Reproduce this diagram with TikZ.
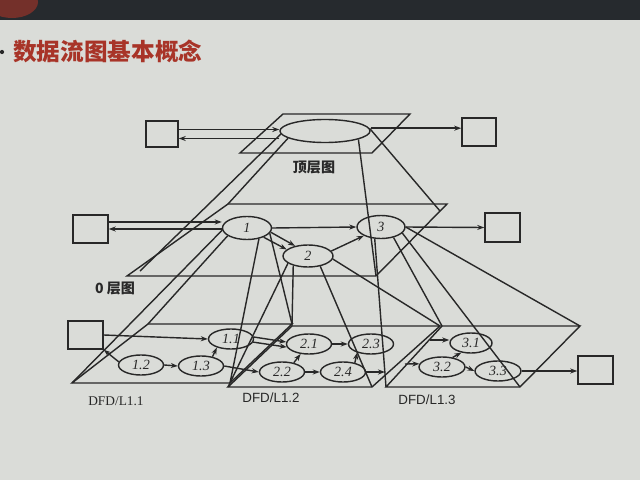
\documentclass[tikz,border=0pt]{standalone}
\usepackage{fontspec}
\setmainfont{Liberation Serif}
\newfontfamily\cjk{Noto Sans CJK SC}
\newfontfamily\arialf{Liberation Sans}
\usetikzlibrary{shapes.geometric,arrows.meta}
\definecolor{ink}{RGB}{40,40,40}
\definecolor{slide}{RGB}{218,220,216}
\definecolor{hdr}{RGB}{38,42,46}
\definecolor{ttl}{RGB}{168,52,40}
\begin{document}
\begin{tikzpicture}[x=0.025cm,y=-0.025cm,
  ln/.style={draw=ink,line width=1pt},
  arr/.style={ln,-{Stealth[length=5pt,width=3.6pt]}},
  ent/.style={draw=ink,line width=1.1pt,inner sep=0pt},
  proc/.style={ellipse,draw=ink,line width=1pt,inner sep=0pt,text=ink,font=\itshape\fontsize{10}{10}\selectfont},
  sub/.style={proc,minimum width=1.125cm,minimum height=0.5cm},
  lab/.style={text=ink,inner sep=0pt,font=\cjk\bfseries\fontsize{10}{10}\selectfont},
  dlab/.style={text=ink,inner sep=0pt,font=\fontsize{9.5}{10}\selectfont}
]
\useasboundingbox (0,0) rectangle (640,480);
\fill[slide] (0,0) rectangle (640,480);
\fill[hdr] (0,0) rectangle (640,20);
\begin{scope}
\clip (0,0) rectangle (640,20);
\fill[ttl!60!hdr] (12,2) ellipse [x radius=0.65cm, y radius=0.4cm];
\end{scope}

% title
\fill[ink] (2,52) circle [radius=1.5pt];
\node[anchor=west,text=ttl,inner sep=0pt,font=\cjk\bfseries\fontsize{16.8}{17}\selectfont] (title) at (13,51) {数据流图基本概念};

% ---------- top level ----------
\coordinate (t1) at (283,114); \coordinate (t2) at (410,114);
\coordinate (t3) at (372,153); \coordinate (t4) at (240,153);
\draw[ln] (t1)--(t2)--(t3)--(t4)--cycle;
\node[ent,minimum width=0.8cm,minimum height=0.65cm] (tl) at (162,134) {};
\node[ent,minimum width=0.85cm,minimum height=0.7cm] (tr) at (479,132) {};
\node[proc,minimum width=2.25cm,minimum height=0.575cm] (T) at (325,131) {};
\draw[arr] ([yshift=3.2pt]tl.east) -- ([yshift=3.2pt]tl.east -| T.west);
\draw[arr] ([yshift=-3.2pt]tl.east -| T.west) -- ([yshift=-3.2pt]tl.east);
\draw[arr] ([yshift=2pt]T.east) -- ([yshift=2pt]T.east -| tr.west);
\node[lab] (ltop) at (314,167) {顶层图};

% ---------- level 0 ----------
\coordinate (p1) at (228,204); \coordinate (p2) at (447,204);
\coordinate (p3) at (376,276); \coordinate (p4) at (127,276);
\draw[ln] (p1)--(p2)--(p3)--(p4)--cycle;
\node[ent,minimum width=0.875cm,minimum height=0.7cm] (b0l) at (90.5,229) {};
\node[ent,minimum width=0.875cm,minimum height=0.725cm] (b0r) at (502.5,227.5) {};
\node[proc,minimum width=1.225cm,minimum height=0.575cm] (E1) at (247,228) {1};
\node[proc,minimum width=1.25cm,minimum height=0.55cm] (E2) at (308,256) {2};
\node[proc,minimum width=1.2cm,minimum height=0.575cm] (E3) at (381,227) {3};
\draw[arr] ([yshift=5pt]b0l.east) -- ([yshift=5pt]b0l.east -| E1.west);
\draw[arr] (b0l.east -| E1.west) -- (b0l.east);
\draw[arr] (E1.east) -- (E3.west);
\draw[arr] (E3.east) -- (b0r.west);
\draw[arr] (E1.350) -- (E2.142);
\draw[arr] (E1.331) -- (E2.163);
\draw[arr] (E2.12) -- (E3.207);
\node[lab] (l0) at (115,288) {0 层图};

% projection top -> level 0
\coordinate (qA) at (140,271);
\coordinate (qB) at (440,211);
\draw[ln] (T.184) -- (qA);
\draw[ln] (T.191) -- (p1);
\draw[ln] (T.346) -- (p3);
\draw[ln] (T.3) -- (qB);

% ---------- level 1 ----------
\coordinate (a1) at (148,324); \coordinate (a2) at (292,324);
\coordinate (a3) at (230,383); \coordinate (a4) at (72,383);
\coordinate (c1) at (292,326); \coordinate (c2) at (440,326);
\coordinate (c3) at (372,387); \coordinate (c4) at (228,387);
\coordinate (d1) at (442,326); \coordinate (d2) at (580,326);
\coordinate (d3) at (520,387); \coordinate (d4) at (386,387);
\draw[ln] (a1)--(a2)--(a3)--(a4)--cycle;
\draw[ln] (c1)--(c2)--(c3)--(c4)--cycle;
\draw[ln] (d1)--(d2)--(d3)--(d4)--cycle;

% projection level 0 -> level 1
\draw[ln] (E1.185) -- (a4);
\draw[ln] (E1.202) -- (a1);
\draw[ln] (E1.347) -- (a2);
\draw[ln] (E1.318) -- (a3);
\draw[ln] (E2.213) -- (c1);
\draw[ln] (E2.200) -- (c4);
\draw[ln] (E2.353) -- (c2);
\draw[ln] (E2.320) -- (c3);
\draw[ln] (E3.242) -- (d4);
\draw[ln] (E3.320) -- (d1);
\draw[ln] (E3.344) -- (d3);
\draw[ln] (E3.0) -- (d2);

\node[ent,minimum width=0.875cm,minimum height=0.7cm] (b3) at (85.5,335) {};
\node[ent,minimum width=0.875cm,minimum height=0.7cm] (b4) at (595.5,370) {};
\node[sub] (e11) at (231,339) {1.1};
\node[sub] (e12) at (141,365) {1.2};
\node[sub] (e13) at (201,366) {1.3};
\node[sub] (e21) at (309,344) {2.1};
\node[sub] (e22) at (282,372) {2.2};
\node[sub] (e23) at (371,344) {2.3};
\node[sub] (e24) at (343,372) {2.4};
\node[sub,minimum width=1.05cm] (e31) at (471,343) {3.1};
\node[sub,minimum width=1.15cm] (e32) at (442,367) {3.2};
\node[sub,minimum width=1.15cm] (e33) at (498,371) {3.3};

\draw[arr] (b3.east) -- (e11.west);
\draw[arr] (e12.172) -- (b3.south east);
\draw[arr] (e12.east) -- (e13.west);
\draw[arr] (e13.39) -- (e11.211);
\draw[arr] (e11.5) -- (e21.175);
\draw[arr] (e11.352) -- (e21.188);
\draw[arr] (e13.east) -- (e22.west);
\draw[arr] (e21.east) -- (e23.west);
\draw[arr] (e22.38) -- (e21.230);
\draw[arr] (e22.east) -- (e24.west);
\draw[arr] (e24.38) -- (e23.212);
\coordinate (o24) at (385,372);
\draw[arr] (e24.east) -- (o24);
\coordinate (i31) at (430,340);
\draw[arr] (i31) -- (i31 -| e31.west);
\coordinate (i32) at (405,364);
\draw[arr] (i32) -- (e32.172);
\draw[arr] (e32.42) -- (e31.225);
\draw[arr] (e32.east) -- (e33.west);
\draw[arr] (e33.east) -- (e33.east -| b4.west);

\node[dlab] (n11) at (116,401) {DFD/L1.1};
\node[dlab,font=\arialf\fontsize{9.5}{10}\selectfont] (n12) at (271,398) {DFD/L1.2};
\node[dlab,font=\arialf\fontsize{9.5}{10}\selectfont] (n13) at (427,400) {DFD/L1.3};
\end{tikzpicture}
\end{document}
